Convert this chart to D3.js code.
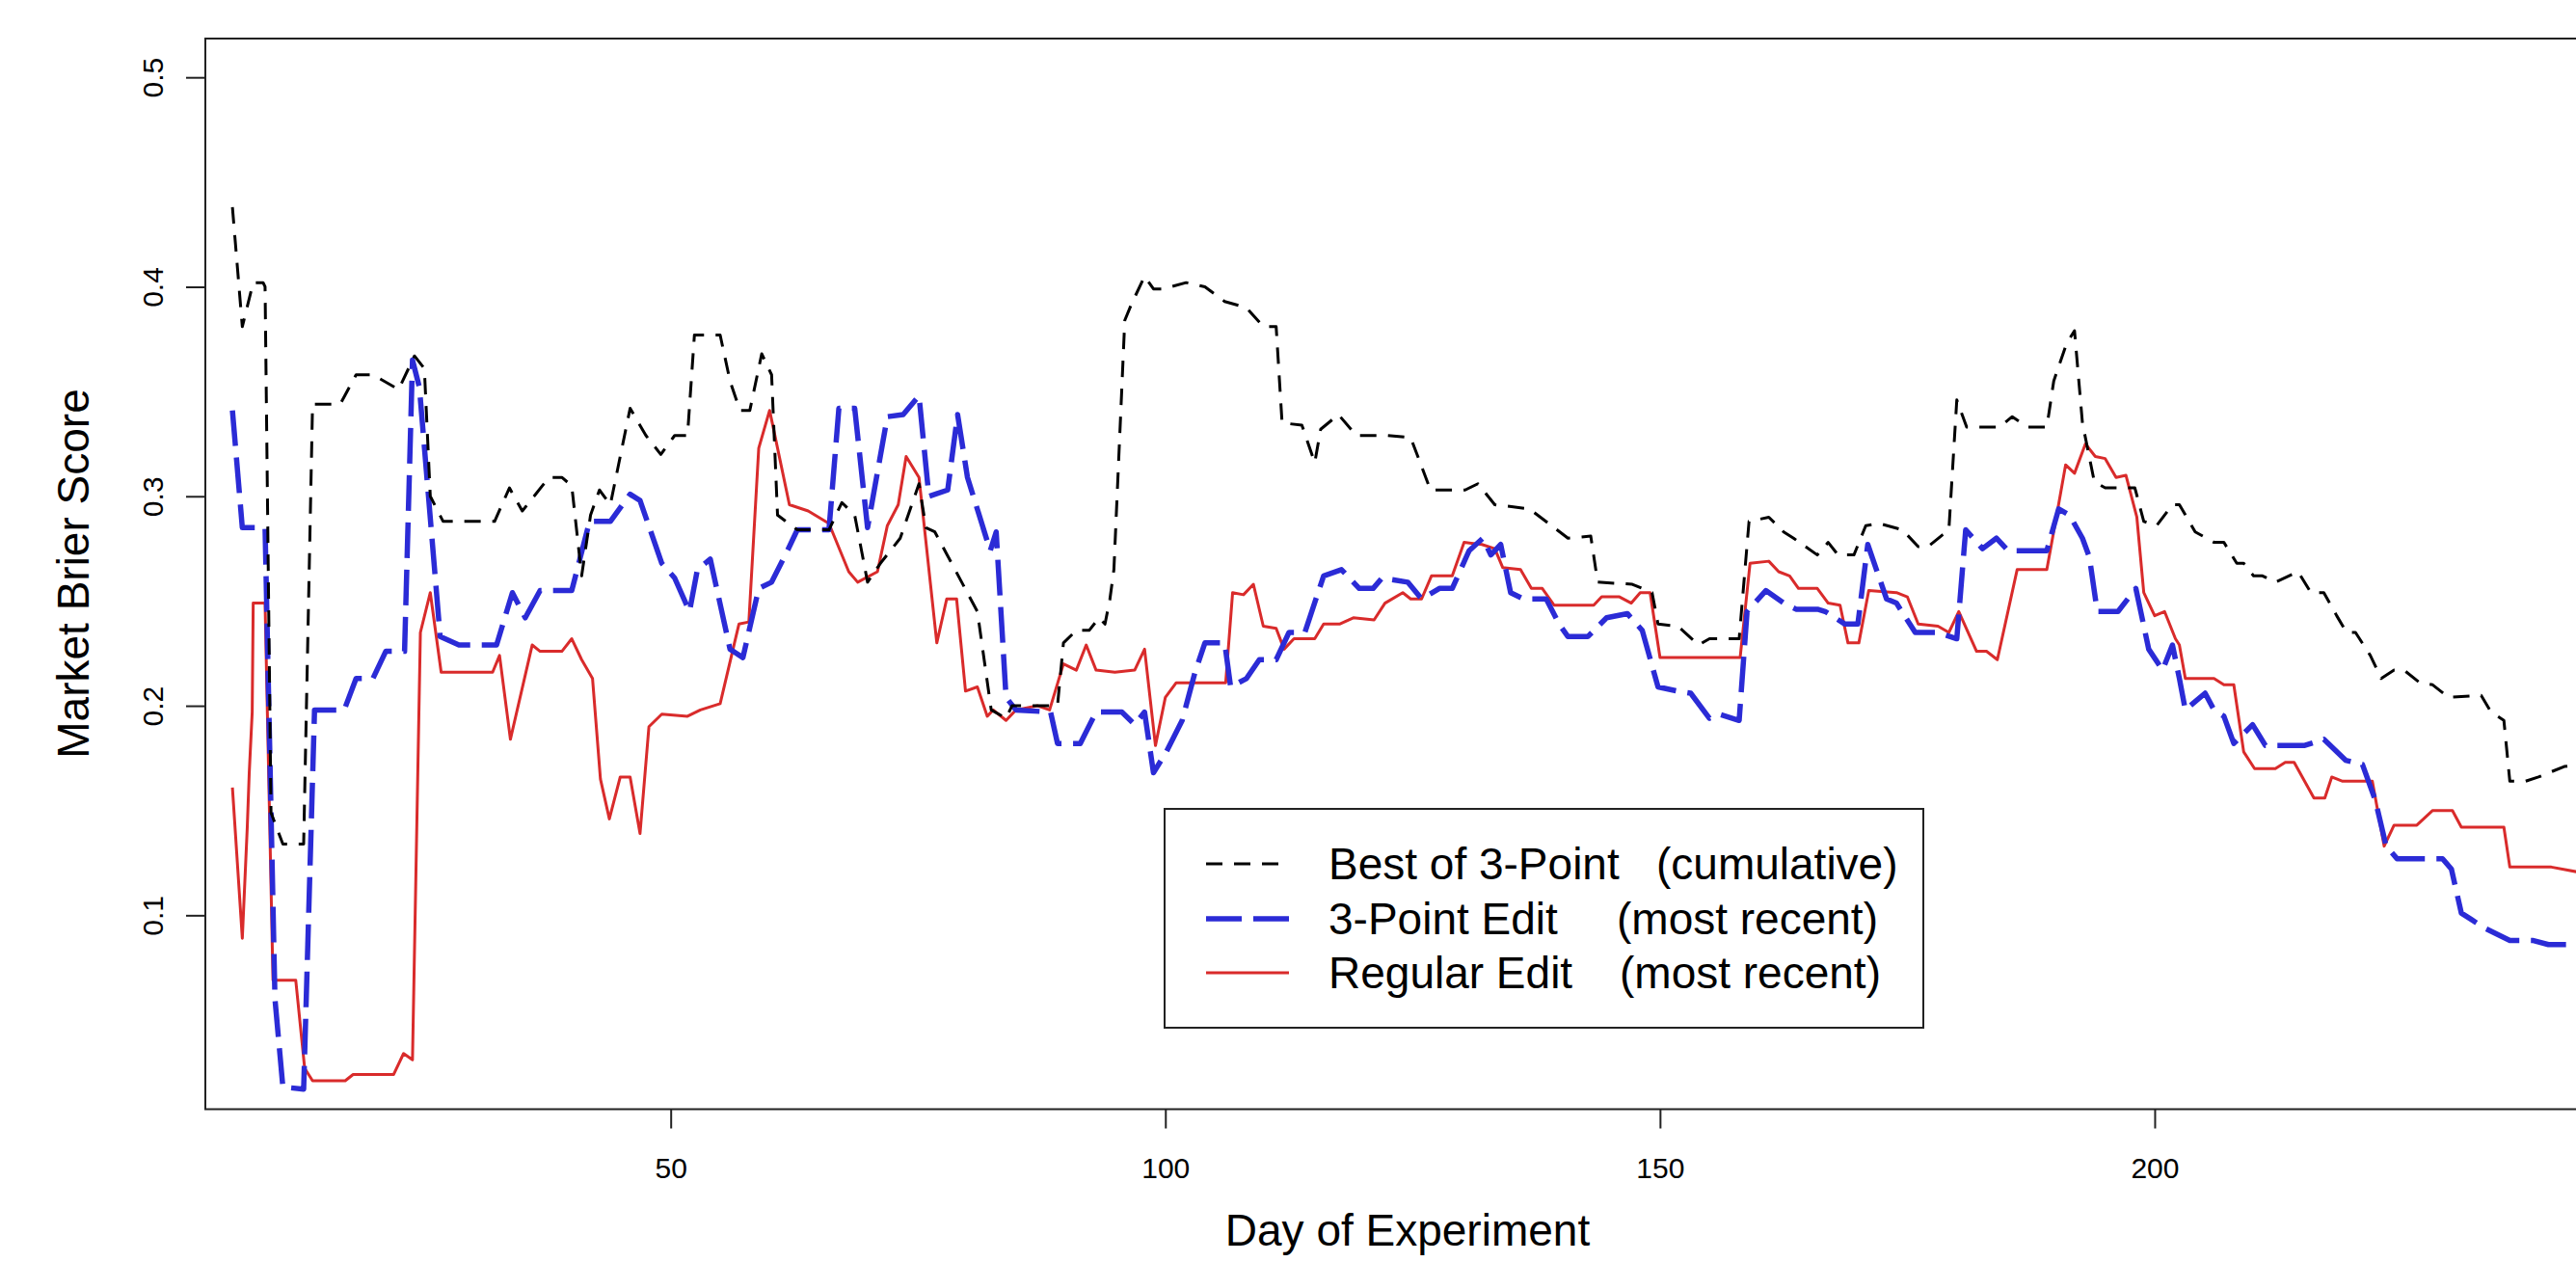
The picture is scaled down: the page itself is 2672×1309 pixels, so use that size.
<!DOCTYPE html>
<html>
<head>
<meta charset="utf-8">
<script src="https://cdn.jsdelivr.net/npm/d3@7"></script>
<style>
  body { margin: 0; background: #fff; }
  text { font-family: "Liberation Sans", Arial, sans-serif; fill: #000; }
</style>
</head>
<body>
<div id="chart"></div>
<script>
// Best of 3-Point (cumulative) - black dashed
const bestDays = [5.7,6.7,7.8,8.8,9.0,9.6,10.8,12.9,13.8,16.6,18.2,19.9,22.5,24.1,25.1,25.7,27.0,32.2,33.7,35.0,37.7,39.0,40.0,41.0,41.9,42.8,43.9,45.9,47.5,49.0,50.4,51.7,52.4,55.0,56.0,57.0,58.0,59.2,60.2,60.8,62.8,66.0,67.3,68.6,69.9,71.2,73.2,75.1,75.8,76.7,78.4,81.0,82.4,83.9,84.5,89.1,89.7,91.0,92.3,93.3,93.9,94.4,94.8,95.9,96.6,97.9,98.8,99.8,102.1,104.0,106.0,108.2,109.9,111.2,111.8,113.8,115.1,115.7,117.5,119.3,122.5,124.8,126.8,130.3,131.6,133.3,136.8,140.7,143.0,143.7,147.2,149.2,149.8,151.8,153.9,155.0,158.0,159.0,161.0,162.5,163.5,165.9,167.0,168.0,169.6,170.8,172.2,174.5,176.1,177.1,178.4,179.2,180.0,181.0,184.3,185.6,187.2,189.1,189.8,191.1,191.9,192.7,193.9,195.0,198.0,198.9,200.2,201.8,202.5,204.1,206.0,207.0,208.3,209.0,210.0,210.9,212.2,214.5,215.8,217.1,218.4,219.4,220.3,221.8,222.9,224.2,225.2,226.8,228.1,229.7,233.0,234.0,235.3,235.9,237.5,238.8,241.4,243.5];
const bestScore = [0.438,0.381,0.402,0.402,0.400,0.149,0.134,0.134,0.344,0.344,0.358,0.358,0.351,0.367,0.361,0.300,0.288,0.288,0.304,0.293,0.309,0.309,0.305,0.262,0.291,0.303,0.296,0.342,0.329,0.320,0.329,0.329,0.377,0.377,0.355,0.341,0.341,0.368,0.358,0.291,0.284,0.284,0.297,0.291,0.259,0.268,0.280,0.306,0.285,0.283,0.268,0.245,0.198,0.194,0.200,0.200,0.230,0.236,0.236,0.242,0.239,0.251,0.265,0.384,0.392,0.405,0.399,0.399,0.402,0.400,0.393,0.390,0.381,0.381,0.335,0.334,0.316,0.332,0.339,0.329,0.329,0.328,0.303,0.303,0.306,0.296,0.294,0.280,0.281,0.259,0.258,0.254,0.239,0.238,0.229,0.232,0.232,0.288,0.290,0.283,0.280,0.272,0.278,0.272,0.272,0.286,0.287,0.284,0.276,0.276,0.281,0.284,0.346,0.333,0.333,0.338,0.333,0.333,0.355,0.373,0.379,0.335,0.307,0.304,0.304,0.288,0.286,0.296,0.296,0.283,0.278,0.278,0.268,0.268,0.262,0.262,0.259,0.264,0.254,0.254,0.243,0.235,0.235,0.224,0.213,0.217,0.217,0.211,0.210,0.204,0.205,0.197,0.193,0.164,0.164,0.166,0.171,0.172];

// 3-Point Edit (most recent) - blue long dash
const threeDays = [5.7,6.7,9.0,10.0,10.8,12.9,14.0,17.0,18.2,19.9,21.2,23.1,23.9,24.6,26.7,28.6,32.4,34.0,35.3,36.8,40.0,41.8,43.9,45.9,46.9,49.1,50.4,51.9,52.7,54.0,56.0,57.3,58.9,60.2,61.8,62.8,66.0,67.0,68.6,69.9,71.9,73.5,75.1,76.1,78.0,79.0,80.0,82.3,82.9,83.9,84.9,88.4,89.1,91.4,93.0,95.6,96.9,97.9,98.8,100.1,101.7,103.0,104.0,106.0,106.6,108.2,109.5,111.2,112.5,114.1,116.0,117.8,119.6,121.0,121.9,124.5,125.9,127.7,129.0,130.7,132.1,132.9,133.9,134.9,136.2,138.5,139.8,140.7,142.7,144.6,146.7,148.2,149.8,151.8,153.1,155.0,156.0,158.0,158.8,160.7,162.5,163.8,166.0,166.7,168.7,170.0,171.0,172.9,173.9,175.8,178.1,180.0,180.9,182.6,184.0,185.2,189.1,190.3,191.4,192.7,193.4,194.2,196.3,198.1,199.4,200.8,201.8,202.5,203.1,205.1,206.0,207.0,208.0,209.9,211.2,215.1,217.1,219.3,221.0,222.3,223.4,224.5,229.1,230.0,231.0,232.0,233.3,235.9,238.2,239.8,243.5];
const threeScore = [0.341,0.285,0.285,0.060,0.018,0.017,0.198,0.198,0.213,0.213,0.226,0.226,0.365,0.352,0.233,0.229,0.229,0.254,0.242,0.255,0.255,0.288,0.288,0.301,0.298,0.268,0.261,0.245,0.265,0.270,0.227,0.223,0.256,0.259,0.274,0.284,0.284,0.342,0.342,0.285,0.338,0.339,0.348,0.300,0.303,0.339,0.309,0.274,0.283,0.204,0.198,0.197,0.182,0.182,0.197,0.197,0.191,0.197,0.168,0.178,0.193,0.216,0.230,0.230,0.209,0.213,0.222,0.222,0.235,0.235,0.262,0.265,0.256,0.256,0.261,0.259,0.251,0.256,0.256,0.274,0.280,0.272,0.277,0.254,0.251,0.251,0.239,0.233,0.233,0.242,0.244,0.236,0.209,0.207,0.206,0.194,0.196,0.193,0.245,0.255,0.249,0.246,0.246,0.245,0.239,0.239,0.277,0.251,0.249,0.235,0.235,0.232,0.284,0.275,0.280,0.274,0.274,0.294,0.291,0.280,0.271,0.245,0.245,0.256,0.227,0.217,0.229,0.213,0.198,0.206,0.198,0.195,0.182,0.191,0.181,0.181,0.184,0.174,0.172,0.155,0.133,0.127,0.127,0.122,0.101,0.098,0.094,0.088,0.088,0.086,0.086];

// Regular Edit (most recent) - red solid
const regDays = [5.7,6.7,7.2,7.4,7.7,7.8,9.0,9.8,12.1,13.0,13.8,17.1,17.9,22.0,23.0,23.9,24.7,25.7,26.8,32.0,32.7,33.8,36.0,36.8,39.0,40.0,41.0,42.1,42.9,43.8,44.9,45.9,46.9,47.8,49.1,51.7,53.0,55.0,56.9,57.9,58.9,60.0,62.0,63.9,66.0,68.0,68.9,70.9,71.9,73.0,73.8,75.1,76.9,77.9,78.9,79.8,81.0,82.0,82.6,83.9,84.9,87.1,88.3,89.7,91.0,92.0,93.0,94.9,96.9,97.9,99.0,100.0,101.1,106.1,106.8,107.9,108.9,109.9,111.2,112.0,113.0,115.1,116.0,117.6,119.0,121.1,122.2,124.0,124.8,125.9,126.9,129.0,130.2,132.0,133.3,134.1,135.9,137.0,138.1,139.3,143.3,144.1,145.9,147.1,148.0,149.0,150.0,158.1,159.1,161.0,162.0,163.1,164.0,165.9,167.0,168.2,169.0,170.1,171.1,173.9,175.0,176.1,178.1,179.2,180.2,182.0,183.0,184.1,186.1,189.1,190.1,191.0,191.9,193.0,194.0,195.0,196.1,197.1,198.2,198.9,200.0,201.0,202.1,202.5,203.1,206.0,207.0,208.0,209.0,210.1,212.2,213.2,214.1,216.1,217.2,217.9,219.0,222.0,223.2,224.2,226.5,228.1,230.1,231.0,235.3,235.9,240.1,243.5];
const regScore = [0.161,0.089,0.142,0.168,0.197,0.249,0.249,0.069,0.069,0.027,0.021,0.021,0.024,0.024,0.034,0.031,0.235,0.254,0.216,0.216,0.224,0.184,0.229,0.226,0.226,0.232,0.222,0.213,0.165,0.146,0.166,0.166,0.139,0.190,0.196,0.195,0.198,0.201,0.239,0.240,0.323,0.341,0.296,0.293,0.287,0.264,0.259,0.264,0.286,0.296,0.319,0.309,0.230,0.251,0.251,0.207,0.209,0.195,0.198,0.193,0.198,0.200,0.198,0.220,0.217,0.229,0.217,0.216,0.217,0.227,0.181,0.204,0.211,0.211,0.254,0.253,0.258,0.238,0.237,0.227,0.232,0.232,0.239,0.239,0.242,0.241,0.249,0.254,0.251,0.251,0.262,0.262,0.278,0.277,0.275,0.266,0.265,0.256,0.256,0.248,0.248,0.252,0.252,0.249,0.254,0.254,0.223,0.223,0.268,0.269,0.264,0.262,0.256,0.256,0.249,0.248,0.230,0.230,0.255,0.254,0.252,0.239,0.238,0.235,0.245,0.226,0.226,0.222,0.265,0.265,0.291,0.315,0.311,0.325,0.319,0.318,0.309,0.310,0.290,0.254,0.243,0.245,0.232,0.229,0.213,0.213,0.210,0.210,0.178,0.170,0.170,0.173,0.173,0.156,0.156,0.166,0.164,0.164,0.133,0.143,0.143,0.150,0.150,0.142,0.142,0.123,0.123,0.120];

const xTicks = [50, 100, 150, 200];
const yTicks = [0.1, 0.2, 0.3, 0.4, 0.5];

const seriesNames = ["Best of 3-Point", "3-Point Edit", "Regular Edit"];
const seriesNotes = ["(cumulative)", "(most recent)", "(most recent)"];

function init(){
  var w = 2672, h = 1309;
  var svg = d3.select("#chart").append("svg")
      .attr("width", w)
      .attr("height", h);

  // plot region (right edge sits past the window, as in the picture)
  var left = 213, right = 2707, top = 40, bottom = 1150.5;

  var xScale = d3.scaleLinear().domain([2.963, 246.0]).range([left, right]);
  var yScale = d3.scaleLinear().domain([0.00742, 0.5185]).range([bottom, top]);

  svg.append("clipPath").attr("id", "plotclip")
    .append("rect")
      .attr("x", left).attr("y", top)
      .attr("width", right - left).attr("height", bottom - top);

  var line = d3.line()
      .x(d => xScale(d[0]))
      .y(d => yScale(d[1]));

  var styles = [
    {days: bestDays,  vals: bestScore,  color: "#000000", width: 3,   dash: "17,12"},
    {days: threeDays, vals: threeScore, color: "#2b2bd6", width: 5.5, dash: "37,12"},
    {days: regDays,   vals: regScore,   color: "#d92b2b", width: 3,   dash: null}
  ];

  var plot = svg.append("g").attr("clip-path", "url(#plotclip)");
  // draw red first, blue, then black on top
  [2, 1, 0].forEach(i => {
    var s = styles[i];
    plot.append("path")
      .datum(d3.zip(s.days, s.vals))
      .attr("d", line)
      .attr("fill", "none")
      .attr("stroke", s.color)
      .attr("stroke-width", s.width)
      .attr("stroke-dasharray", s.dash)
      .attr("stroke-linejoin", "round")
      .attr("stroke-linecap", "butt");
  });

  // box
  svg.append("rect")
    .attr("x", left).attr("y", top)
    .attr("width", right - left).attr("height", bottom - top)
    .attr("fill", "none")
    .attr("stroke", "#222")
    .attr("stroke-width", 2);

  // x axis
  var xAxis = svg.append("g")
    .attr("transform", "translate(0," + bottom + ")")
    .call(d3.axisBottom(xScale).tickValues(xTicks).tickSize(20).tickSizeOuter(0).tickPadding(30));
  xAxis.select(".domain").remove();
  xAxis.selectAll(".tick line").attr("stroke", "#222").attr("stroke-width", 2);
  xAxis.selectAll("text")
    .style("font-family", '"Liberation Sans", Arial, sans-serif')
    .style("font-size", "30px")
    .attr("fill", "#000");

  // y axis, labels turned like R's default
  var yAxis = svg.append("g")
    .attr("transform", "translate(" + left + ",0)")
    .call(d3.axisLeft(yScale).tickValues(yTicks).tickSize(20).tickSizeOuter(0).tickFormat(d3.format(".1f")));
  yAxis.select(".domain").remove();
  yAxis.selectAll(".tick line").attr("stroke", "#222").attr("stroke-width", 2);
  yAxis.selectAll("text")
    .attr("x", null).attr("dy", null)
    .attr("transform", "translate(-44,0) rotate(-90)")
    .attr("text-anchor", "middle")
    .style("font-family", '"Liberation Sans", Arial, sans-serif')
    .style("font-size", "30px")
    .attr("fill", "#000");

  // axis titles
  svg.append("text")
    .attr("x", 1460).attr("y", 1292)
    .attr("text-anchor", "middle")
    .style("font-size", "46px")
    .text("Day of Experiment");

  svg.append("text")
    .attr("transform", "translate(92,595) rotate(-90)")
    .attr("text-anchor", "middle")
    .style("font-size", "46px")
    .text("Market Brier Score");

  // legend
  var legend = svg.append("g");
  legend.append("rect")
    .attr("x", 1208).attr("y", 839)
    .attr("width", 787).attr("height", 227)
    .attr("fill", "#fff")
    .attr("stroke", "#222")
    .attr("stroke-width", 2);

  var rowY = [896, 953, 1009];
  var noteX = [1718, 1677, 1680];
  styles.forEach((s, i) => {
    legend.append("line")
      .attr("x1", 1251).attr("x2", 1337)
      .attr("y1", rowY[i]).attr("y2", rowY[i])
      .attr("stroke", s.color)
      .attr("stroke-width", s.width)
      .attr("stroke-dasharray", s.dash);
    var t = legend.append("text")
      .attr("y", rowY[i] + 16)
      .style("font-size", "46px");
    t.append("tspan").attr("x", 1378).text(seriesNames[i]);
    t.append("tspan").attr("x", noteX[i]).text(seriesNotes[i]);
  });
}
window.onload = init;
</script>
</body>
</html>
